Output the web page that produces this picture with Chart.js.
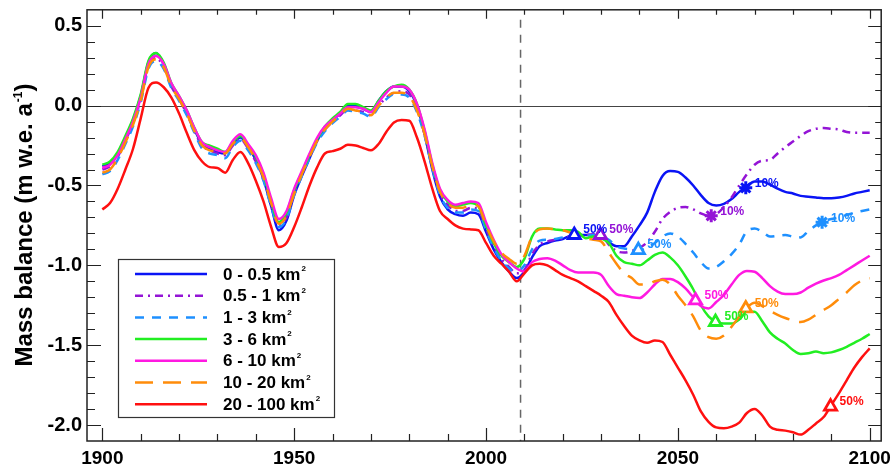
<!DOCTYPE html>
<html>
<head>
<meta charset="utf-8">
<script src="https://cdn.jsdelivr.net/npm/chart.js@4.4.1/dist/chart.umd.min.js"></script>
<style>
  body { margin: 0; background: #fff; }
</style>
</head>
<body>
<canvas id="massChart" width="891" height="466"></canvas>
<script>
// size classes and their colours
const classes = ['0 - 0.5 km', '0.5 - 1 km', '1 - 3 km', '3 - 6 km', '6 - 10 km', '10 - 20 km', '20 - 100 km'];
const colors = ['#0a14f5', '#9414d6', '#1e90ff', '#22ee22', '#ff19e1', '#ff8c0a', '#ff1010'];

const years = [
  1900,1902,1904,1906,1908,1910,1912,1914,1916,1918,1920,1922,1924,1926,1928,1930,1932,1934,1936,1938,
  1940,1942,1944,1946,1948,1950,1952,1954,1956,1958,1960,1962,1964,1966,1968,1970,1972,1974,1976,1978,
  1980,1982,1984,1986,1988,1990,1992,1994,1996,1998,2000,2002,2004,2006,2008,
  2010,2012,2014,2016,2018,2020,2022,2024,2026,2028,2030,2032,2034,2036,2038,2040,2042,2044,2046,2048,
  2050,2052,2054,2056,2058,2060,2062,2064,2066,2068,2070,2072,2074,2076,2078,2080,2082,2084,2086,2088,
  2090,2092,2094,2096,2098,2100
];

// mass balance, m w.e. a-1
const s0_05 = [
  -0.38,-0.36,-0.30,-0.20,-0.09,0.06,0.27,0.33,0.26,0.13,
  0.05,-0.04,-0.15,-0.24,-0.27,-0.29,-0.30,-0.24,-0.20,-0.26,
  -0.34,-0.46,-0.63,-0.78,-0.72,-0.56,-0.44,-0.33,-0.22,-0.14,
  -0.09,-0.05,0.0,0.0,-0.02,-0.04,0.03,0.09,0.12,0.12,
  0.09,0.0,-0.18,-0.40,-0.57,-0.65,-0.68,-0.69,-0.67,-0.68,
  -0.79,-0.90,-0.98,-1.04,-1.08,
  -1.04,-0.95,-0.88,-0.86,-0.845,-0.835,-0.815,-0.81,-0.81,-0.81,
  -0.82,-0.855,-0.88,-0.88,-0.82,-0.75,-0.67,-0.54,-0.44,-0.41,
  -0.415,-0.45,-0.50,-0.56,-0.61,-0.625,-0.615,-0.585,-0.54,-0.505,
  -0.475,-0.475,-0.495,-0.52,-0.54,-0.55,-0.565,-0.57,-0.575,-0.58,
  -0.58,-0.575,-0.565,-0.55,-0.54,-0.53
];
const s05_1 = [
  -0.40,-0.38,-0.32,-0.22,-0.11,0.04,0.25,0.30,0.24,0.12,
  0.04,-0.05,-0.16,-0.25,-0.28,-0.30,-0.31,-0.25,-0.21,-0.27,
  -0.35,-0.46,-0.62,-0.75,-0.70,-0.55,-0.43,-0.32,-0.22,-0.15,
  -0.10,-0.06,-0.02,-0.03,-0.04,-0.06,0.0,0.05,0.08,0.09,
  0.07,-0.02,-0.18,-0.38,-0.55,-0.62,-0.66,-0.66,-0.64,-0.65,
  -0.77,-0.88,-0.96,-1.01,-1.05,
  -1.03,-0.93,-0.87,-0.85,-0.84,-0.83,-0.82,-0.815,-0.81,-0.805,
  -0.81,-0.87,-0.91,-0.92,-0.91,-0.89,-0.855,-0.79,-0.71,-0.665,
  -0.64,-0.635,-0.65,-0.675,-0.69,-0.68,-0.635,-0.575,-0.50,-0.43,
  -0.37,-0.345,-0.34,-0.30,-0.26,-0.225,-0.19,-0.16,-0.145,-0.14,
  -0.145,-0.15,-0.165,-0.17,-0.17,-0.17
];
const s1_3 = [
  -0.43,-0.41,-0.34,-0.24,-0.13,0.02,0.23,0.28,0.23,0.11,
  0.03,-0.06,-0.17,-0.27,-0.30,-0.31,-0.33,-0.26,-0.22,-0.28,
  -0.36,-0.47,-0.63,-0.76,-0.71,-0.56,-0.44,-0.33,-0.23,-0.16,
  -0.11,-0.07,-0.03,-0.04,-0.05,-0.07,-0.01,0.04,0.07,0.07,
  0.05,-0.04,-0.19,-0.39,-0.56,-0.64,-0.67,-0.67,-0.65,-0.66,
  -0.78,-0.89,-0.97,-1.02,-1.04,
  -1.0,-0.90,-0.845,-0.84,-0.835,-0.825,-0.82,-0.82,-0.815,-0.81,
  -0.82,-0.84,-0.88,-0.895,-0.90,-0.905,-0.89,-0.86,-0.82,-0.80,
  -0.82,-0.865,-0.92,-0.98,-1.02,-1.01,-0.975,-0.93,-0.87,-0.785,
  -0.77,-0.79,-0.82,-0.815,-0.81,-0.82,-0.825,-0.785,-0.75,-0.725,
  -0.71,-0.70,-0.685,-0.67,-0.66,-0.65
];
const s3_6 = [
  -0.37,-0.35,-0.29,-0.19,-0.08,0.07,0.28,0.33,0.27,0.14,
  0.06,-0.03,-0.14,-0.23,-0.25,-0.27,-0.29,-0.23,-0.19,-0.25,
  -0.32,-0.43,-0.60,-0.73,-0.67,-0.53,-0.42,-0.31,-0.21,-0.13,
  -0.08,-0.04,0.01,0.01,-0.01,-0.03,0.03,0.09,0.12,0.13,
  0.10,0.01,-0.16,-0.37,-0.53,-0.60,-0.63,-0.62,-0.61,-0.63,
  -0.75,-0.86,-0.94,-0.98,-1.01,
  -0.96,-0.82,-0.77,-0.77,-0.775,-0.78,-0.78,-0.79,-0.83,-0.82,
  -0.83,-0.86,-0.94,-0.98,-0.99,-1.0,-0.97,-0.935,-0.92,-0.95,
  -1.0,-1.07,-1.15,-1.25,-1.32,-1.355,-1.365,-1.365,-1.34,-1.29,
  -1.29,-1.35,-1.42,-1.46,-1.49,-1.53,-1.555,-1.55,-1.54,-1.55,
  -1.545,-1.53,-1.51,-1.485,-1.46,-1.43
];
const s6_10 = [
  -0.39,-0.37,-0.31,-0.21,-0.10,0.05,0.26,0.31,0.26,0.14,
  0.06,-0.03,-0.14,-0.23,-0.26,-0.28,-0.29,-0.22,-0.18,-0.24,
  -0.31,-0.42,-0.58,-0.71,-0.66,-0.52,-0.41,-0.30,-0.20,-0.13,
  -0.09,-0.05,-0.01,-0.01,-0.02,-0.04,0.02,0.08,0.12,0.12,
  0.10,0.01,-0.15,-0.36,-0.52,-0.59,-0.62,-0.61,-0.60,-0.61,
  -0.73,-0.84,-0.93,-0.98,-1.02,
  -1.04,-0.98,-0.96,-0.955,-0.97,-1.0,-1.03,-1.045,-1.045,-1.045,
  -1.06,-1.13,-1.18,-1.19,-1.20,-1.205,-1.17,-1.12,-1.085,-1.085,
  -1.105,-1.145,-1.20,-1.255,-1.27,-1.23,-1.185,-1.12,-1.06,-1.035,
  -1.04,-1.08,-1.13,-1.165,-1.18,-1.18,-1.17,-1.14,-1.115,-1.095,
  -1.08,-1.06,-1.03,-1.0,-0.97,-0.94
];
const s10_20 = [
  -0.42,-0.40,-0.33,-0.23,-0.12,0.03,0.24,0.29,0.24,0.12,
  0.04,-0.05,-0.16,-0.25,-0.28,-0.29,-0.30,-0.24,-0.20,-0.26,
  -0.34,-0.45,-0.61,-0.74,-0.69,-0.55,-0.43,-0.32,-0.22,-0.15,
  -0.10,-0.06,-0.02,-0.03,-0.04,-0.06,0.0,0.05,0.08,0.08,
  0.06,-0.03,-0.18,-0.38,-0.54,-0.61,-0.64,-0.64,-0.62,-0.63,
  -0.75,-0.85,-0.92,-0.96,-0.99,
  -0.94,-0.82,-0.775,-0.77,-0.775,-0.78,-0.795,-0.81,-0.83,-0.84,
  -0.85,-0.92,-0.99,-1.05,-1.08,-1.12,-1.12,-1.10,-1.09,-1.12,
  -1.19,-1.25,-1.32,-1.41,-1.45,-1.46,-1.44,-1.385,-1.32,-1.265,
  -1.235,-1.255,-1.285,-1.31,-1.33,-1.345,-1.355,-1.34,-1.31,-1.28,
  -1.25,-1.21,-1.17,-1.125,-1.095,-1.08
];
const s20_100 = [
  -0.65,-0.61,-0.52,-0.40,-0.27,-0.08,0.11,0.145,0.115,0.05,
  -0.05,-0.17,-0.28,-0.35,-0.385,-0.39,-0.42,-0.34,-0.29,-0.36,
  -0.47,-0.60,-0.76,-0.885,-0.86,-0.76,-0.635,-0.50,-0.385,-0.30,
  -0.285,-0.27,-0.245,-0.25,-0.265,-0.28,-0.24,-0.165,-0.105,-0.09,
  -0.095,-0.20,-0.35,-0.52,-0.66,-0.71,-0.75,-0.77,-0.775,-0.78,
  -0.86,-0.94,-0.99,-1.04,-1.10,
  -1.05,-1.0,-0.99,-1.0,-1.03,-1.06,-1.08,-1.10,-1.13,-1.16,
  -1.19,-1.23,-1.31,-1.38,-1.44,-1.47,-1.485,-1.47,-1.48,-1.56,
  -1.64,-1.72,-1.81,-1.915,-1.98,-2.015,-2.02,-2.01,-1.985,-1.925,
  -1.90,-1.94,-2.01,-2.03,-2.035,-2.045,-2.06,-2.03,-1.99,-1.95,
  -1.875,-1.80,-1.72,-1.64,-1.575,-1.52
];
const seriesList = [s0_05, s05_1, s1_3, s3_6, s6_10, s10_20, s20_100];
const dashes = [[], [8, 5, 2, 5], [9, 8], [], [], [18, 10], []];

// 50% and 10% area-loss markers (year, value)
const halfYear = [2023, 2029.8, 2039.7, 2059.8, 2054.6, 2067.7, 2089.8];
const halfValue = [-0.81, -0.81, -0.905, -1.355, -1.22, -1.27, -1.885];
const tenthYear = [2067.7, 2058.7, 2087.6];
const tenthValue = [-0.515, -0.69, -0.73];

const splitYear = 2009;
const xTicks = { min: 1896, max: 2103, step: 10 };
const yTicks = { min: -2.1, max: 0.6, step: 0.1 };

const FONT = '"Liberation Sans", Arial, sans-serif';

const datasets = seriesList.map((vals, i) => ({
    label: classes[i],
    data: years.map((yr, k) => ({ x: yr, y: vals[k] })),
    borderColor: colors[i],
    borderWidth: 2.5,
    borderDash: dashes[i],
    pointRadius: 0,
    fill: false,
    cubicInterpolationMode: 'monotone',
    order: 10 - i
}));

datasets.push({
    label: 'half',
    data: halfYear.map((yr, k) => ({ x: yr, y: halfValue[k] })),
    showLine: false,
    borderColor: 'transparent',
    pointStyle: 'triangle',
    pointRadius: 7,
    pointBorderWidth: 2.8,
    pointBorderColor: colors,
    pointBackgroundColor: '#fff',
    order: 0
});
datasets.push({
    label: 'tenth',
    data: tenthYear.map((yr, k) => ({ x: yr, y: tenthValue[k] })),
    showLine: false,
    borderColor: 'transparent',
    pointStyle: 'star',
    pointRadius: 6.5,
    pointBorderWidth: 3,
    pointBorderColor: colors.slice(0, 3),
    order: 0
});

const decorations = {
    id: 'decorations',
    beforeDatasetsDraw(chart) {
        const { ctx, chartArea: a, scales: { x, y } } = chart;
        ctx.save();
        // zero line
        const y0 = Math.round(y.getPixelForValue(0)) + 0.5;
        ctx.strokeStyle = '#444';
        ctx.lineWidth = 1.2;
        ctx.beginPath();
        ctx.moveTo(a.left, y0);
        ctx.lineTo(a.right, y0);
        ctx.stroke();
        // present day
        const xd = x.getPixelForValue(splitYear);
        ctx.strokeStyle = '#666';
        ctx.lineWidth = 1.5;
        ctx.setLineDash([8, 7]);
        ctx.beginPath();
        ctx.moveTo(xd, a.top + 10);
        ctx.lineTo(xd, a.bottom);
        ctx.stroke();
        ctx.restore();
    },
    afterDraw(chart) {
        const { ctx, chartArea: a, scales: { x, y } } = chart;
        ctx.save();

        // frame and inward ticks
        ctx.strokeStyle = '#222';
        ctx.lineWidth = 1.5;
        ctx.strokeRect(a.left, a.top, a.right - a.left, a.bottom - a.top);
        ctx.lineWidth = 1.2;
        ctx.beginPath();
        x.ticks.forEach(t => {
            const px = Math.round(x.getPixelForValue(t.value)) + 0.5;
            const major = Math.round(t.value) % 50 === 0;
            ctx.moveTo(px, a.bottom);
            ctx.lineTo(px, a.bottom - (major ? 13 : 7));
            ctx.moveTo(px, a.top);
            ctx.lineTo(px, a.top + (major ? 9 : 5));
        });
        y.ticks.forEach(t => {
            const r = Math.round(t.value * 10);
            if (r <= -21 || r >= 6) return;
            const py = Math.round(y.getPixelForValue(t.value)) + 0.5;
            const major = r % 5 === 0;
            ctx.moveTo(a.left, py);
            ctx.lineTo(a.left + (major ? 14 : 8), py);
            ctx.moveTo(a.right, py);
            ctx.lineTo(a.right - (major ? 13 : 6), py);
        });
        ctx.stroke();

        // marker labels
        ctx.font = 'bold 12px ' + FONT;
        ctx.textAlign = 'left';
        ctx.textBaseline = 'middle';
        const n = seriesList.length;
        chart.getDatasetMeta(n).data.forEach((el, i) => {
            ctx.fillStyle = colors[i];
            ctx.fillText('50%', el.x + 9, el.y - 5);
        });
        chart.getDatasetMeta(n + 1).data.forEach((el, i) => {
            ctx.fillStyle = colors[i];
            ctx.fillText('10%', el.x + 9, el.y - 4);
        });

        // legend box
        const lx = 118.5, ly = 259.5, lw = 216, lh = 158;
        ctx.fillStyle = '#fff';
        ctx.fillRect(lx, ly, lw, lh);
        ctx.strokeStyle = '#333';
        ctx.lineWidth = 1.2;
        ctx.strokeRect(lx, ly, lw, lh);
        classes.forEach((name, i) => {
            const ry = 274 + i * 21.7;
            ctx.strokeStyle = colors[i];
            ctx.lineWidth = 2.5;
            ctx.setLineDash(dashes[i]);
            ctx.beginPath();
            ctx.moveTo(135, ry);
            ctx.lineTo(207, ry);
            ctx.stroke();
            ctx.setLineDash([]);
            ctx.fillStyle = '#000';
            ctx.font = 'bold 17px ' + FONT;
            ctx.textBaseline = 'middle';
            ctx.fillText(name, 223, ry + 1);
            const w = ctx.measureText(name).width;
            ctx.font = 'bold 8px ' + FONT;
            ctx.fillText('2', 223 + w + 1, ry - 5);
        });

        // y axis title
        ctx.translate(32, 225);
        ctx.rotate(-Math.PI / 2);
        ctx.fillStyle = '#000';
        ctx.textBaseline = 'alphabetic';
        ctx.textAlign = 'left';
        const main = 'Mass balance (m w.e. a';
        ctx.font = 'bold 24px ' + FONT;
        const w1 = ctx.measureText(main).width;
        ctx.font = 'bold 12px ' + FONT;
        const w2 = ctx.measureText('-1').width;
        ctx.font = 'bold 24px ' + FONT;
        const w3 = ctx.measureText(')').width;
        const x0 = -(w1 + w2 + w3 + 1) / 2;
        ctx.fillText(main, x0, 0);
        ctx.font = 'bold 12px ' + FONT;
        ctx.fillText('-1', x0 + w1 + 1, -10);
        ctx.font = 'bold 24px ' + FONT;
        ctx.fillText(')', x0 + w1 + w2 + 1, 0);
        ctx.restore();
    }
};

const noPad = s => {
    s.paddingTop = 0;
    s.paddingBottom = 0;
    s.paddingLeft = 0;
    s.paddingRight = 0;
};

new Chart(document.getElementById('massChart'), {
    type: 'line',
    data: { datasets },
    options: {
        responsive: false,
        animation: false,
        devicePixelRatio: 1,
        layout: { padding: { top: 9, right: 8, left: 0, bottom: 0 } },
        plugins: { legend: { display: false }, tooltip: { enabled: false } },
        scales: {
            x: {
                type: 'linear',
                min: xTicks.min,
                max: xTicks.max,
                grid: { display: false, drawTicks: false },
                border: { display: false },
                afterFit: s => { s.height = 25; noPad(s); },
                ticks: {
                    stepSize: xTicks.step,
                    includeBounds: false,
                    autoSkip: false,
                    maxRotation: 0,
                    padding: 6,
                    color: '#000',
                    font: { family: FONT, size: 19, weight: 'bold' },
                    callback: v => (Math.round(v) % 50 === 0 ? String(Math.round(v)) : '')
                }
            },
            y: {
                min: yTicks.min,
                max: yTicks.max,
                grid: { display: false, drawTicks: false },
                border: { display: false },
                afterFit: s => { s.width = 87; noPad(s); },
                ticks: {
                    stepSize: yTicks.step,
                    autoSkip: false,
                    padding: 5,
                    color: '#000',
                    font: { family: FONT, size: 20, weight: 'bold' },
                    callback: v => {
                        const r = Math.round(v * 10);
                        return r % 5 === 0 ? (r / 10).toFixed(1) : '';
                    }
                }
            }
        }
    },
    plugins: [decorations]
});
</script>
</body>
</html>
